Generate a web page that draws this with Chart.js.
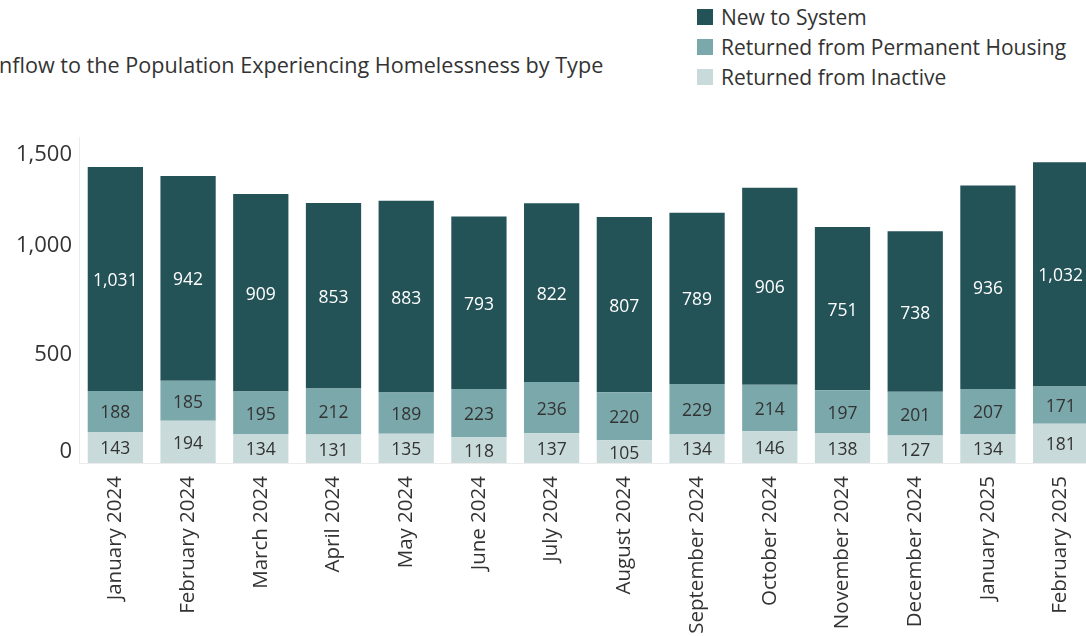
<!DOCTYPE html>
<html>
<head>
<meta charset="utf-8">
<script src="https://cdn.jsdelivr.net/npm/chart.js@4.4.1/dist/chart.umd.min.js"></script>
<style>
  body { margin: 0; background: #fff; overflow: hidden; width: 1086px; height: 636px; position: relative; font-family: "Open Sans", sans-serif; color: #333; }
  #wrap { position: absolute; left: 0; top: 0; width: 1100px; height: 636px; }
  #title { position: absolute; left: -7px; top: 50px; font-size: 21.6px; white-space: nowrap; color: #333; }
  #legend { position: absolute; left: 697px; top: 2px; font-size: 21px; color: #333; }
  .item { height: 30px; display: flex; align-items: center; white-space: nowrap; }
  .sw { width: 16px; height: 16px; margin-right: 8px; }
</style>
</head>
<body>
<div id="title">Inflow to the Population Experiencing Homelessness by Type</div>
<div id="legend"></div>
<div id="wrap"><canvas id="main-chart"></canvas></div>
<script>
const months = ['January 2024', 'February 2024', 'March 2024', 'April 2024', 'May 2024', 'June 2024', 'July 2024',
    'August 2024', 'September 2024', 'October 2024', 'November 2024', 'December 2024', 'January 2025', 'February 2025'];
const fromInactive = [143, 194, 134, 131, 135, 118, 137, 105, 134, 146, 138, 127, 134, 181];
const fromPermanent = [188, 185, 195, 212, 189, 223, 236, 220, 229, 214, 197, 201, 207, 171];
const newToSystem = [1031, 942, 909, 853, 883, 793, 822, 807, 789, 906, 751, 738, 936, 1032];
const yTicks = [0, 500, 1000, 1500];

const colors = { inactive: '#c9dadb', permanent: '#7aa8ab', newSys: '#235257' };

// legend order as in the picture: top series first
const legendItems = [
    ['New to System', colors.newSys],
    ['Returned from Permanent Housing', colors.permanent],
    ['Returned from Inactive', colors.inactive],
];
const legendEl = document.getElementById('legend');
legendItems.forEach(([name, col]) => {
    const row = document.createElement('div');
    row.className = 'item';
    row.innerHTML = '<div class="sw" style="background:' + col + '"></div>' + name;
    legendEl.appendChild(row);
});

const fmt = v => v.toLocaleString('en-US');

// value labels centred in each segment
const segmentLabels = {
    id: 'segmentLabels',
    afterDatasetsDraw(chart) {
        const ctx = chart.ctx;
        ctx.save();
        ctx.font = '17.5px "Open Sans"';
        ctx.textAlign = 'center';
        ctx.textBaseline = 'middle';
        chart.data.datasets.forEach((ds, i) => {
            chart.getDatasetMeta(i).data.forEach((bar, j) => {
                const mid = (bar.y + bar.base) / 2;
                ctx.fillStyle = ds.labelColor;
                ctx.fillText(fmt(ds.data[j]), bar.x, mid + 2);
            });
        });
        ctx.restore();
    }
};

// Tableau-like y labels: kept inside the axis range
const yLabels = {
    id: 'yLabels',
    afterDraw(chart) {
        const y = chart.scales.y;
        const ctx = chart.ctx;
        ctx.save();
        ctx.font = '22px "Open Sans"';
        ctx.fillStyle = '#333';
        ctx.textAlign = 'right';
        ctx.textBaseline = 'middle';
        yTicks.forEach(v => {
            let py = y.getPixelForValue(v);
            py = Math.min(Math.max(py, y.top + 18), y.bottom - 11);
            ctx.fillText(fmt(v), 72, py);
        });
        ctx.restore();
    }
};

new Chart(document.getElementById('main-chart'), {
    type: 'bar',
    data: {
        labels: months,
        datasets: [
            { label: 'Returned from Inactive', data: fromInactive, backgroundColor: colors.inactive, labelColor: '#333' },
            { label: 'Returned from Permanent Housing', data: fromPermanent, backgroundColor: colors.permanent, labelColor: '#333' },
            { label: 'New to System', data: newToSystem, backgroundColor: colors.newSys, labelColor: '#fff' },
        ]
    },
    options: {
        responsive: true,
        maintainAspectRatio: false,
        animation: false,
        layout: { padding: { top: 137, right: 3, left: 0, bottom: 0 } },
        datasets: { bar: { barPercentage: 0.76, categoryPercentage: 1.0 } },
        plugins: { legend: { display: false }, tooltip: { enabled: false } },
        scales: {
            x: {
                stacked: true,
                grid: { display: false },
                border: { display: true, color: '#ececec' },
                ticks: { color: '#333', font: { size: 20.5, family: 'Open Sans' }, minRotation: 90, maxRotation: 90, autoSkip: false, padding: 5 },
                afterFit(scale) { scale.height = 636 - 463; }
            },
            y: {
                stacked: true,
                min: 0,
                max: 1500,
                grid: { display: false },
                border: { display: true, color: '#ececec' },
                ticks: { display: false, stepSize: 500 },
                afterFit(scale) { scale.width = 79; }
            }
        }
    },
    plugins: [segmentLabels, yLabels]
});
</script>
</body>
</html>
